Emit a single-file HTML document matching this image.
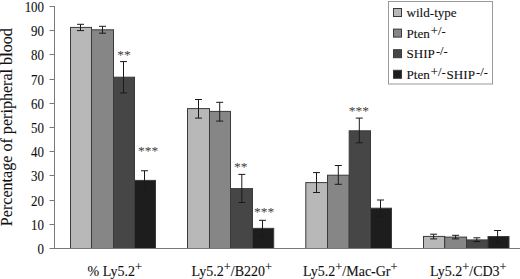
<!DOCTYPE html>
<html><head><meta charset="utf-8"><style>
html,body{margin:0;padding:0;background:#fff;width:520px;height:279px;overflow:hidden}
svg{display:block}
text{font-family:"Liberation Serif",serif;fill:#111;stroke:#111;stroke-width:0.1px}
.yl{font-size:13.6px}
.xl{font-size:14px}
.sup{font-size:12.4px}
.lsup{font-size:12.6px}
.yt{font-size:16.1px}
.lg{font-size:13.1px}
.st{font-size:13.5px;fill:#3c3c3c;stroke:none}
</style></head><body>
<svg width="520" height="279" viewBox="0 0 520 279">
<rect width="520" height="279" fill="#fff"/>
<rect x="70.50" y="27.40" width="21.00" height="221.10" fill="#b8b8b8" stroke="#3a3a3a" stroke-width="1"/>
<rect x="91.50" y="29.80" width="22.00" height="218.70" fill="#868686" stroke="#3a3a3a" stroke-width="1"/>
<rect x="113.50" y="77.20" width="21.00" height="171.30" fill="#464646" stroke="#3a3a3a" stroke-width="1"/>
<rect x="134.50" y="180.40" width="21.00" height="68.10" fill="#1d1d1d" stroke="#3a3a3a" stroke-width="1"/>
<rect x="187.50" y="108.60" width="22.00" height="139.90" fill="#b8b8b8" stroke="#3a3a3a" stroke-width="1"/>
<rect x="209.50" y="111.40" width="21.00" height="137.10" fill="#868686" stroke="#3a3a3a" stroke-width="1"/>
<rect x="230.50" y="188.60" width="22.00" height="59.90" fill="#464646" stroke="#3a3a3a" stroke-width="1"/>
<rect x="252.50" y="228.35" width="21.20" height="20.15" fill="#1d1d1d" stroke="#3a3a3a" stroke-width="1"/>
<rect x="305.80" y="182.60" width="21.70" height="65.90" fill="#b8b8b8" stroke="#3a3a3a" stroke-width="1"/>
<rect x="327.50" y="175.20" width="21.70" height="73.30" fill="#868686" stroke="#3a3a3a" stroke-width="1"/>
<rect x="349.20" y="130.80" width="21.30" height="117.70" fill="#464646" stroke="#3a3a3a" stroke-width="1"/>
<rect x="370.50" y="208.20" width="21.00" height="40.30" fill="#1d1d1d" stroke="#3a3a3a" stroke-width="1"/>
<rect x="423.50" y="236.40" width="21.20" height="12.10" fill="#b8b8b8" stroke="#3a3a3a" stroke-width="1"/>
<rect x="444.70" y="237.10" width="21.90" height="11.40" fill="#868686" stroke="#3a3a3a" stroke-width="1"/>
<rect x="466.60" y="239.90" width="21.40" height="8.60" fill="#464646" stroke="#3a3a3a" stroke-width="1"/>
<rect x="488.00" y="236.55" width="21.00" height="11.95" fill="#1d1d1d" stroke="#3a3a3a" stroke-width="1"/>
<path d="M54.5 6V248.5M54.0 248.5H520" stroke="#7a7a7a" stroke-width="1" fill="none"/>
<line x1="49.5" y1="248.5" x2="54.5" y2="248.5" stroke="#7a7a7a" stroke-width="1"/>
<text transform="translate(44,253.5) scale(0.95,1)" text-anchor="end" class="yl">0</text>
<line x1="49.5" y1="224.5" x2="54.5" y2="224.5" stroke="#7a7a7a" stroke-width="1"/>
<text transform="translate(44,229.5) scale(0.95,1)" text-anchor="end" class="yl">10</text>
<line x1="49.5" y1="200.5" x2="54.5" y2="200.5" stroke="#7a7a7a" stroke-width="1"/>
<text transform="translate(44,205.5) scale(0.95,1)" text-anchor="end" class="yl">20</text>
<line x1="49.5" y1="175.5" x2="54.5" y2="175.5" stroke="#7a7a7a" stroke-width="1"/>
<text transform="translate(44,180.5) scale(0.95,1)" text-anchor="end" class="yl">30</text>
<line x1="49.5" y1="151.5" x2="54.5" y2="151.5" stroke="#7a7a7a" stroke-width="1"/>
<text transform="translate(44,156.5) scale(0.95,1)" text-anchor="end" class="yl">40</text>
<line x1="49.5" y1="127.5" x2="54.5" y2="127.5" stroke="#7a7a7a" stroke-width="1"/>
<text transform="translate(44,132.5) scale(0.95,1)" text-anchor="end" class="yl">50</text>
<line x1="49.5" y1="103.5" x2="54.5" y2="103.5" stroke="#7a7a7a" stroke-width="1"/>
<text transform="translate(44,108.5) scale(0.95,1)" text-anchor="end" class="yl">60</text>
<line x1="49.5" y1="79.5" x2="54.5" y2="79.5" stroke="#7a7a7a" stroke-width="1"/>
<text transform="translate(44,84.5) scale(0.95,1)" text-anchor="end" class="yl">70</text>
<line x1="49.5" y1="54.5" x2="54.5" y2="54.5" stroke="#7a7a7a" stroke-width="1"/>
<text transform="translate(44,59.5) scale(0.95,1)" text-anchor="end" class="yl">80</text>
<line x1="49.5" y1="30.5" x2="54.5" y2="30.5" stroke="#7a7a7a" stroke-width="1"/>
<text transform="translate(44,35.5) scale(0.95,1)" text-anchor="end" class="yl">90</text>
<line x1="49.5" y1="6.5" x2="54.5" y2="6.5" stroke="#7a7a7a" stroke-width="1"/>
<text transform="translate(44,11.5) scale(0.95,1)" text-anchor="end" class="yl">100</text>
<path d="M80.50 24.30V30.60M77.00 24.30h7M77.00 30.60h7" stroke="#1a1a1a" stroke-width="1" fill="none"/>
<path d="M102.50 26.30V33.20M99.00 26.30h7M99.00 33.20h7" stroke="#1a1a1a" stroke-width="1" fill="none"/>
<path d="M123.50 61.60V92.90M120.00 61.60h7M120.00 92.90h7" stroke="#1a1a1a" stroke-width="1" fill="none"/>
<path d="M144.50 170.75V190.00M141.00 170.75h7M141.00 190.00h7" stroke="#1a1a1a" stroke-width="1" fill="none"/>
<path d="M198.50 99.50V118.10M195.00 99.50h7M195.00 118.10h7" stroke="#1a1a1a" stroke-width="1" fill="none"/>
<path d="M219.70 102.30V121.10M216.20 102.30h7M216.20 121.10h7" stroke="#1a1a1a" stroke-width="1" fill="none"/>
<path d="M241.80 174.40V202.50M238.30 174.40h7M238.30 202.50h7" stroke="#1a1a1a" stroke-width="1" fill="none"/>
<path d="M262.50 220.30V236.40M259.00 220.30h7M259.00 236.40h7" stroke="#1a1a1a" stroke-width="1" fill="none"/>
<path d="M316.50 172.60V192.50M313.00 172.60h7M313.00 192.50h7" stroke="#1a1a1a" stroke-width="1" fill="none"/>
<path d="M338.30 165.50V184.30M334.80 165.50h7M334.80 184.30h7" stroke="#1a1a1a" stroke-width="1" fill="none"/>
<path d="M359.30 118.10V142.80M355.80 118.10h7M355.80 142.80h7" stroke="#1a1a1a" stroke-width="1" fill="none"/>
<path d="M380.50 200.00V216.40M377.00 200.00h7M377.00 216.40h7" stroke="#1a1a1a" stroke-width="1" fill="none"/>
<path d="M433.60 234.20V238.90M430.10 234.20h7M430.10 238.90h7" stroke="#1a1a1a" stroke-width="1" fill="none"/>
<path d="M455.60 235.30V238.90M452.10 235.30h7M452.10 238.90h7" stroke="#1a1a1a" stroke-width="1" fill="none"/>
<path d="M476.80 237.80V241.60M473.30 237.80h7M473.30 241.60h7" stroke="#1a1a1a" stroke-width="1" fill="none"/>
<path d="M497.60 230.50V242.60M494.10 230.50h7M494.10 242.60h7" stroke="#1a1a1a" stroke-width="1" fill="none"/>
<text x="124.0" y="59.2" text-anchor="middle" class="st">**</text>
<text x="148.0" y="155.2" text-anchor="middle" class="st">***</text>
<text x="240.8" y="170.6" text-anchor="middle" class="st">**</text>
<text x="264.0" y="216.0" text-anchor="middle" class="st">***</text>
<text x="358.8" y="115.0" text-anchor="middle" class="st">***</text>
<text x="114.8" y="275.7" text-anchor="middle" class="xl">%&#160;Ly5.2<tspan class="sup" dy="-4.5">+</tspan></text>
<text x="231.8" y="275.7" text-anchor="middle" class="xl">Ly5.2<tspan class="sup" dy="-4.5">+</tspan><tspan dy="4.5">/B220</tspan><tspan class="sup" dy="-4.5">+</tspan></text>
<text x="350.3" y="275.7" text-anchor="middle" class="xl">Ly5.2<tspan class="sup" dy="-4.5">+</tspan><tspan dy="4.5">/Mac-Gr</tspan><tspan class="sup" dy="-4.5">+</tspan></text>
<text x="468.3" y="275.7" text-anchor="middle" class="xl">Ly5.2<tspan class="sup" dy="-4.5">+</tspan><tspan dy="4.5">/CD3</tspan><tspan class="sup" dy="-4.5">+</tspan></text>
<text transform="translate(12.2,127.2) rotate(-90)" text-anchor="middle" class="yt">Percentage of peripheral blood</text>
<rect x="388.5" y="1.5" width="104" height="82.5" fill="#fff" stroke="#999" stroke-width="1"/>
<rect x="393.5" y="8.5" width="8" height="8" fill="#b8b8b8" stroke="#3a3a3a" stroke-width="1"/>
<text x="406.5" y="17.1" class="lg">wild-type</text>
<rect x="393.5" y="29.1" width="8" height="8" fill="#868686" stroke="#3a3a3a" stroke-width="1"/>
<text x="406.5" y="37.7" class="lg">Pten<tspan class="lsup" dx="1.0" dy="-3.2">+/-</tspan></text>
<rect x="393.5" y="49.7" width="8" height="8" fill="#464646" stroke="#3a3a3a" stroke-width="1"/>
<text x="406.5" y="58.3" class="lg">SHIP<tspan class="lsup" dx="1.0" dy="-3.2">-/-</tspan></text>
<rect x="393.5" y="70.3" width="8" height="8" fill="#1d1d1d" stroke="#3a3a3a" stroke-width="1"/>
<text x="406.5" y="78.9" class="lg">Pten<tspan class="lsup" dx="1.0" dy="-3.2">+/-</tspan><tspan dx="1.0" dy="3.2">SHIP</tspan><tspan class="lsup" dx="1.0" dy="-3.2">-/-</tspan></text>
</svg>
</body></html>
